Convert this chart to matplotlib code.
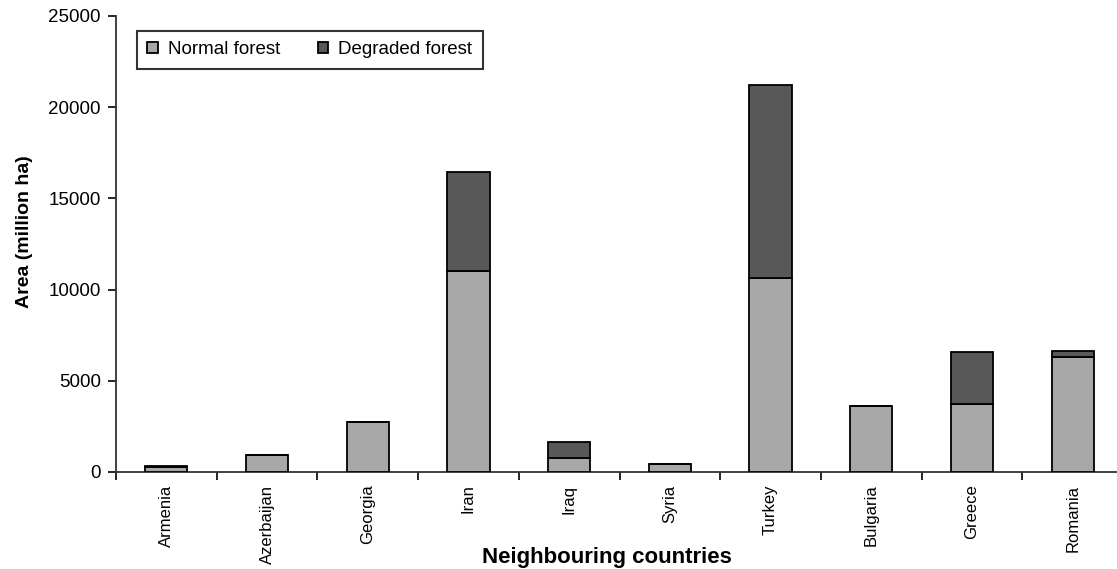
import matplotlib
matplotlib.use("Agg")
import matplotlib.pyplot as plt
from matplotlib import font_manager
import numpy as np

countries = ["Armenia", "Azerbaijan", "Georgia", "Iran", "Iraq", "Syria",
             "Turkey", "Bulgaria", "Greece", "Romania"]
normal_forest = [250, 930, 2750, 11040, 790, 460, 10620, 3630, 3710, 6320]
degraded_forest = [80, 0, 0, 5390, 850, 0, 10610, 0, 2850, 310]
y_ticks = [0, 5000, 10000, 15000, 20000, 25000]

plt.rcParams['font.family'] = ['Liberation Sans', 'DejaVu Sans']

names = {f.name for f in font_manager.fontManager.ttflist}
narrow = 'Liberation Sans Narrow' if 'Liberation Sans Narrow' in names else None

fig = plt.figure(figsize=(11.17, 5.69), dpi=100)
ax = fig.add_axes([116/1117, 97/569, 1007/1117, 456/569])

x = np.arange(len(countries))
w = 0.42
c_norm = "#a8a8a8"
c_deg = "#585858"
ax.bar(x, normal_forest, w, color=c_norm, edgecolor="black", linewidth=1.3,
       label="Normal forest", zorder=3)
ax.bar(x, degraded_forest, w, bottom=normal_forest, color=c_deg,
       edgecolor="black", linewidth=1.3, label="Degraded forest", zorder=3)

ax.set_xlim(-0.5, len(countries) - 0.5)
ax.set_ylim(0, 25000)
ax.set_yticks(y_ticks)
ax.set_yticklabels([str(v) for v in y_ticks], fontsize=13.5)

ax.set_xticks(x)
ax.set_xticklabels(countries, rotation=90, fontsize=12)
ax.set_xticks(np.arange(len(countries)) - 0.5, minor=True)
ax.tick_params(axis='x', which='major', length=0, pad=9)
ax.tick_params(axis='x', which='minor', length=6, width=1.2, direction='out')
ax.tick_params(axis='y', length=6, width=1.2, direction='out', pad=5)

for s in ["top", "right"]:
    ax.spines[s].set_visible(False)
for s in ["left", "bottom"]:
    ax.spines[s].set_linewidth(1.3)
    ax.spines[s].set_color("#333333")

ax.set_ylabel("Area (million ha)", fontsize=14, fontweight="bold")
ax.yaxis.set_label_coords(-0.082, 0.528)

if narrow:
    fig.text(607/1117, 6/569, "Neighbouring countries", fontsize=18,
             fontweight="bold", family=[narrow, 'Liberation Sans'],
             ha="center", va="baseline")
else:
    t = fig.text(607/1117, 6/569, "Neighbouring countries", fontsize=16,
                 fontweight="bold", ha="center", va="baseline")

leg = ax.legend(loc="upper left", ncol=2, bbox_to_anchor=(0.021, 0.967),
                borderaxespad=0, fontsize=13.5, frameon=True, fancybox=False,
                edgecolor="black", handlelength=0.55, handleheight=0.55,
                columnspacing=2.0, borderpad=0.55, handletextpad=0.55)
leg.get_frame().set_linewidth(1.5)

fig.savefig("out.png", dpi=100)
